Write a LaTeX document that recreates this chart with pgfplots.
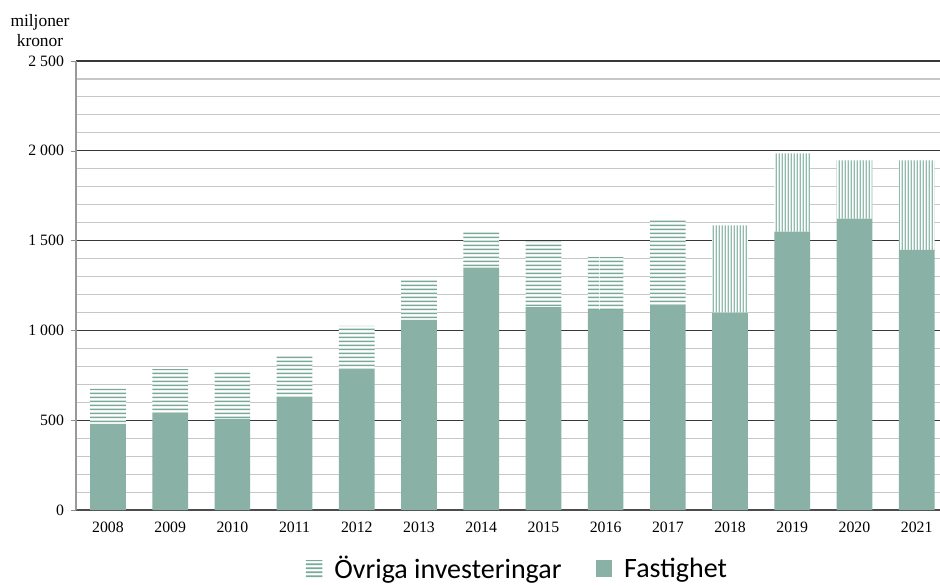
\documentclass[border=0pt]{standalone}
\usepackage{pgfplots}
\pgfplotsset{compat=1.18}
\usepackage{pgfplotstable}
\usetikzlibrary{patterns}
\usepackage{fontspec}
\setmainfont{Liberation Serif}
\newfontfamily\legendfont{Carlito}
\definecolor{fastgreen}{RGB}{137,177,165}
\definecolor{patgreen}{RGB}{122,168,153}
\definecolor{patgreenv}{RGB}{145,187,173}

\pgfdeclarepatternformonly{hdense}{\pgfpointorigin}{\pgfpoint{100pt}{1.8pt}}{\pgfpoint{100pt}{1.8pt}}%
{\pgfsetlinewidth{0.95pt}\pgfpathmoveto{\pgfpoint{0pt}{0.9pt}}\pgfpathlineto{\pgfpoint{100pt}{0.9pt}}\pgfusepath{stroke}}
\pgfdeclarepatternformonly{vdense}{\pgfpointorigin}{\pgfpoint{1.65pt}{100pt}}{\pgfpoint{1.65pt}{100pt}}%
{\pgfsetlinewidth{0.75pt}\pgfpathmoveto{\pgfpoint{0.825pt}{0pt}}\pgfpathlineto{\pgfpoint{0.825pt}{100pt}}\pgfusepath{stroke}}

\pgfplotstableread{
x fast ovrh ovrv
0  480 196 0
1  542 243 0
2  507 260 0
3  628 235 0
4  785 240 0
5  1058 223 0
6  1349 203 0
7  1129 365 0
8  1114 296 0
9  1143 476 0
10 1099 0 486
11 1550 0 436
12 1622 0 325
13 1448 0 499
}\data

\begin{document}
\begin{tikzpicture}
\begin{axis}[
  at={(0,0)}, anchor=south west,
  scale only axis, width=432pt, height=224.5pt,
  ybar stacked, bar width=0.574,
  xmin=-0.514, xmax=13.375, ymin=0, ymax=2500,
  xtick={0,...,13},
  xticklabels={2008,2009,2010,2011,2012,2013,2014,2015,2016,2017,2018,2019,2020,2021},
  ytick={0,500,...,2500},
  minor y tick num=4,
  ymajorgrids, yminorgrids,
  major grid style={draw=black!78, line width=0.55pt},
  minor grid style={draw=black!22, line width=0.55pt},
  axis x line*=bottom, axis y line*=left,
  x axis line style={-, draw=black!70, line width=0.6pt},
  y axis line style={-, draw=black!40, line width=0.6pt},
  major x tick style={draw=none},
  minor tick length=0pt,
  major y tick style={draw=black!45},
  tick align=outside, major tick length=2.5pt,
  ticklabel style={font=\fontsize{7.9}{9}\selectfont},
  /pgf/number format/assume math mode=true,
  /pgf/number format/1000 sep={\ },
  legend columns=2,
  legend style={draw=none, fill=none, at={(rel axis cs:0.512,-0.131)}, anchor=center,
    font=\legendfont\fontsize{14}{16}\selectfont,
    /tikz/every odd column/.append style={column sep=4pt},
    /tikz/every even column/.append style={column sep=15pt}},
  legend image code/.code={\path[#1] (0pt,-4.2pt) rectangle (8.3pt,4.2pt);},
]
\addlegendimage{draw=none, fill=white, postaction={pattern=hdense, pattern color=patgreen}}
\addlegendimage{draw=none, fill=fastgreen}
\addplot[draw=none, fill=fastgreen] table[x=x, y=fast] {\data};
\addplot[draw=none, fill=white, postaction={pattern=hdense, pattern color=patgreen}] table[x=x, y=ovrh] {\data};
\addplot[draw=none, fill=white, postaction={pattern=vdense, pattern color=patgreenv}] table[x=x, y=ovrv] {\data};
\legend{Övriga investeringar, Fastighet}
\end{axis}
\node[align=center, anchor=south, inner sep=0pt, font=\fontsize{8.7}{10}\selectfont]
  at (-18pt,231.5pt) {miljoner\\kronor};
\pgfresetboundingbox
\path (-38pt,-37.5pt) rectangle (432pt,255pt);
\end{tikzpicture}
\end{document}
